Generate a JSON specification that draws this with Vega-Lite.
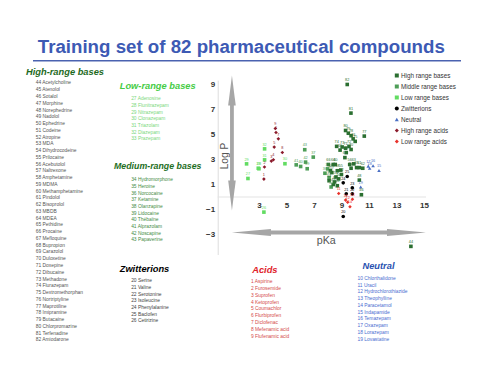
{
  "$schema": "https://vega.github.io/schema/vega-lite/v6.json",
  "background": "white",
  "padding": {"left": 26, "top": 38, "right": 8, "bottom": 8},
  "config": {"view": {"stroke": null}, "font": "Liberation Sans"},
  "datasets": {
    "compounds": [
      {"n":1,"name":"Aspirine","group":"Acids","c":"High range acids","pKa":3.36,"logP":1.43},
      {"n":2,"name":"Furosemide","group":"Acids","c":"High range acids","pKa":3.4,"logP":2.4},
      {"n":3,"name":"Suprofen","group":"Acids","c":"High range acids","pKa":3.9,"logP":2.87},
      {"n":4,"name":"Ketoprofen","group":"Acids","c":"High range acids","pKa":4.05,"logP":2.98},
      {"n":5,"name":"Coumachlor","group":"Acids","c":"High range acids","pKa":4.11,"logP":3.99},
      {"n":6,"name":"Flurbiprofen","group":"Acids","c":"High range acids","pKa":4.24,"logP":5.16},
      {"n":7,"name":"Diclofenac","group":"Acids","c":"High range acids","pKa":4.41,"logP":4.65},
      {"n":8,"name":"Mefenamic acid","group":"Acids","c":"High range acids","pKa":4.7,"logP":3.56},
      {"n":9,"name":"Flufenamic acid","group":"Acids","c":"High range acids","pKa":4.19,"logP":5.48},
      {"n":10,"name":"Chlorthalidone","group":"Neutral","c":"Low range acids","pKa":9.3,"logP":-0.25},
      {"n":11,"name":"Uracil","group":"Neutral","c":"Low range acids","pKa":8.8,"logP":0.28},
      {"n":12,"name":"Hydrochlorothiazide","group":"Neutral","c":"Low range acids","pKa":9.45,"logP":-0.42},
      {"n":13,"name":"Theophylline","group":"Neutral","c":"Low range acids","pKa":9.8,"logP":-0.18},
      {"n":14,"name":"Paracetamol","group":"Neutral","c":"Low range acids","pKa":9.62,"logP":-0.78},
      {"n":15,"name":"Indapamide","group":"Neutral","c":"Neutral","pKa":11.73,"logP":2.12},
      {"n":16,"name":"Temazepam","group":"Neutral","c":"Neutral","pKa":11.3,"logP":2.5},
      {"n":17,"name":"Oxazepam","group":"Neutral","c":"Neutral","pKa":10.95,"logP":2.47},
      {"n":18,"name":"Lorazepam","group":"Neutral","c":"Neutral","pKa":11.05,"logP":2.3},
      {"n":19,"name":"Lovastatine","group":"Neutral","c":"Neutral","pKa":10.4,"logP":0.8},
      {"n":20,"name":"Serine","group":"Zwitterions","c":"Zwitterions","pKa":9.13,"logP":-1.56},
      {"n":21,"name":"Valine","group":"Zwitterions","c":"Zwitterions","pKa":9.35,"logP":0.25},
      {"n":22,"name":"Serotonine","group":"Zwitterions","c":"Zwitterions","pKa":9.79,"logP":0.25},
      {"n":23,"name":"Isoleucine","group":"Zwitterions","c":"Zwitterions","pKa":9.79,"logP":0.73},
      {"n":24,"name":"Phenylalanine","group":"Zwitterions","c":"Zwitterions","pKa":9.13,"logP":1.13},
      {"n":25,"name":"Baclofen","group":"Zwitterions","c":"Zwitterions","pKa":9.42,"logP":1.64},
      {"n":26,"name":"Cetirizine","group":"Zwitterions","c":"Low range bases","pKa":3.36,"logP":-1.21},
      {"n":27,"name":"Adenosine","group":"Low-range bases","c":"Low range bases","pKa":2.2,"logP":1.48},
      {"n":28,"name":"Flunitrazepam","group":"Low-range bases","c":"Low range bases","pKa":3.0,"logP":2.26},
      {"n":29,"name":"Nitrazepam","group":"Low-range bases","c":"Low range bases","pKa":2.1,"logP":2.65},
      {"n":30,"name":"Clonazepam","group":"Low-range bases","c":"Low range bases","pKa":4.89,"logP":2.66},
      {"n":31,"name":"Triazolam","group":"Low-range bases","c":"Low range bases","pKa":3.41,"logP":2.97},
      {"n":32,"name":"Diazepam","group":"Low-range bases","c":"Low range bases","pKa":3.41,"logP":3.85},
      {"n":33,"name":"Prazepam","group":"Low-range bases","c":"Low range bases","pKa":2.95,"logP":2.3},
      {"n":34,"name":"Hydromorphone","group":"Medium-range bases","c":"Middle range bases","pKa":8.25,"logP":0.8},
      {"n":35,"name":"Heroine","group":"Medium-range bases","c":"Middle range bases","pKa":8.1,"logP":1.55},
      {"n":36,"name":"Norcocaine","group":"Medium-range bases","c":"Middle range bases","pKa":7.8,"logP":1.9},
      {"n":37,"name":"Ketamine","group":"Medium-range bases","c":"Middle range bases","pKa":6.95,"logP":3.19},
      {"n":38,"name":"Olanzapine","group":"Medium-range bases","c":"Middle range bases","pKa":8.0,"logP":2.25},
      {"n":39,"name":"Lidocaine","group":"Medium-range bases","c":"Middle range bases","pKa":6.51,"logP":2.26},
      {"n":40,"name":"Thébaïne","group":"Medium-range bases","c":"Middle range bases","pKa":6.03,"logP":2.44},
      {"n":41,"name":"Alprazolam","group":"Medium-range bases","c":"Middle range bases","pKa":5.71,"logP":2.57},
      {"n":42,"name":"Noscapine","group":"Medium-range bases","c":"Middle range bases","pKa":6.39,"logP":2.79},
      {"n":43,"name":"Papaverine","group":"Medium-range bases","c":"Middle range bases","pKa":6.33,"logP":3.78},
      {"n":44,"name":"Acetylcholine","group":"High-range bases","c":"High range bases","pKa":14.05,"logP":-3.95},
      {"n":45,"name":"Atenolol","group":"High-range bases","c":"High range bases","pKa":8.7,"logP":0.9},
      {"n":46,"name":"Sotalol","group":"High-range bases","c":"High range bases","pKa":10.45,"logP":0.18},
      {"n":47,"name":"Morphine","group":"High-range bases","c":"High range bases","pKa":8.5,"logP":1.2},
      {"n":48,"name":"Norephedrine","group":"High-range bases","c":"High range bases","pKa":10.3,"logP":1.35},
      {"n":49,"name":"Nadolol","group":"High-range bases","c":"High range bases","pKa":8.4,"logP":1.0},
      {"n":50,"name":"Ephedrine","group":"High-range bases","c":"High range bases","pKa":8.8,"logP":1.45},
      {"n":51,"name":"Codeine","group":"High-range bases","c":"High range bases","pKa":8.6,"logP":1.6},
      {"n":52,"name":"Atropine","group":"High-range bases","c":"High range bases","pKa":9.0,"logP":1.8},
      {"n":53,"name":"MDA","group":"High-range bases","c":"High range bases","pKa":8.1,"logP":1.3},
      {"n":54,"name":"Dihydrocodeine","group":"High-range bases","c":"High range bases","pKa":9.7,"logP":2.3},
      {"n":55,"name":"Prilocaine","group":"High-range bases","c":"High range bases","pKa":8.95,"logP":2.15},
      {"n":56,"name":"Acebutolol","group":"High-range bases","c":"High range bases","pKa":9.6,"logP":2.6},
      {"n":57,"name":"Naltrexone","group":"High-range bases","c":"High range bases","pKa":8.3,"logP":1.95},
      {"n":58,"name":"Amphetamine","group":"High-range bases","c":"High range bases","pKa":8.7,"logP":2.1},
      {"n":59,"name":"MDMA","group":"High-range bases","c":"High range bases","pKa":8.2,"logP":2.1},
      {"n":60,"name":"Methamphetamine","group":"High-range bases","c":"High range bases","pKa":8.55,"logP":2.6},
      {"n":61,"name":"Pindolol","group":"High-range bases","c":"High range bases","pKa":10.3,"logP":2.35},
      {"n":62,"name":"Bisoprolol","group":"High-range bases","c":"High range bases","pKa":10.55,"logP":2.3},
      {"n":63,"name":"MBDB","group":"High-range bases","c":"High range bases","pKa":9.9,"logP":2.65},
      {"n":64,"name":"MDEA","group":"High-range bases","c":"High range bases","pKa":8.4,"logP":2.6},
      {"n":65,"name":"Pethidine","group":"High-range bases","c":"High range bases","pKa":10.1,"logP":2.35},
      {"n":66,"name":"Procaine","group":"High-range bases","c":"High range bases","pKa":8.05,"logP":2.6},
      {"n":67,"name":"Mefloquine","group":"High-range bases","c":"High range bases","pKa":9.25,"logP":3.15},
      {"n":68,"name":"Bupropion","group":"High-range bases","c":"High range bases","pKa":9.35,"logP":3.55},
      {"n":69,"name":"Carazolol","group":"High-range bases","c":"High range bases","pKa":8.9,"logP":3.75},
      {"n":70,"name":"Duloxetine","group":"High-range bases","c":"High range bases","pKa":9.7,"logP":3.8},
      {"n":71,"name":"Doxepine","group":"High-range bases","c":"High range bases","pKa":9.3,"logP":3.9},
      {"n":72,"name":"Dibucaine","group":"High-range bases","c":"High range bases","pKa":9.55,"logP":4.05},
      {"n":73,"name":"Methadone","group":"High-range bases","c":"High range bases","pKa":9.05,"logP":4.0},
      {"n":74,"name":"Flurazepam","group":"High-range bases","c":"High range bases","pKa":8.65,"logP":4.05},
      {"n":75,"name":"Dextromethorphan","group":"High-range bases","c":"High range bases","pKa":10.0,"logP":4.45},
      {"n":76,"name":"Nortriptyline","group":"High-range bases","c":"High range bases","pKa":9.85,"logP":4.65},
      {"n":77,"name":"Maprotiline","group":"High-range bases","c":"High range bases","pKa":10.66,"logP":4.87},
      {"n":78,"name":"Imipramine","group":"High-range bases","c":"High range bases","pKa":9.7,"logP":4.9},
      {"n":79,"name":"Butacaine","group":"High-range bases","c":"High range bases","pKa":9.5,"logP":5.1},
      {"n":80,"name":"Chlorpromazine","group":"High-range bases","c":"High range bases","pKa":9.3,"logP":5.32},
      {"n":81,"name":"Terfenadine","group":"High-range bases","c":"High range bases","pKa":9.69,"logP":6.71},
      {"n":82,"name":"Amiodarone","group":"High-range bases","c":"High range bases","pKa":9.42,"logP":9.0}
    ]
  },
  "resolve": {"scale": {"color": "independent", "shape": "independent"}},
  "bounds": "full",
  "spacing": 5.1,
  "vconcat": [
    {
      "width": 428,
      "height": 1.6,
      "view": {"fill": "#4a62b0", "stroke": null},
      "data": {"values": [{"t": "Training set of 82 pharmaceutical compounds"}]},
      "mark": {"type": "text", "font": "Liberation Sans", "fontSize": 18.7, "fontWeight": "bold", "color": "#3d5ab4", "baseline": "alphabetic", "align": "center", "dx": -5.7, "dy": -7.7},
      "encoding": {"text": {"field": "t"}}
    },
    {
      "resolve": {"scale": {"color": "independent", "shape": "independent"}},
      "bounds": "full",
      "spacing": 9,
      "hconcat": [
        {
          "width": 5.5,
          "height": {"step": 6.76},
          "title": {"text": "High-range bases", "anchor": "start", "frame": "group", "dx": -7, "font": "Liberation Sans", "fontSize": 9.3, "fontWeight": "bold", "fontStyle": "italic", "color": "#1d6a1d", "offset": 3.3},
          "data": {"name": "compounds"},
          "transform": [{"filter": "datum.group === 'High-range bases'"}, {"calculate": "datum.n + ' ' + datum.name", "as": "label"}],
          "mark": {"type": "text", "align": "left", "baseline": "middle", "fontSize": 4.9, "color": "#555555"},
          "encoding": {"y": {"field": "n", "type": "ordinal", "axis": null}, "text": {"field": "label"}}
        },
        {
          "resolve": {"scale": {"color": "independent", "shape": "independent"}},
          "bounds": "full",
          "spacing": 2.7,
          "hconcat": [
            {
              "bounds": "full",
              "spacing": 0.7,
              "vconcat": [
                {"width": 1, "height": 1, "data": {"values": []}, "mark": "point", "encoding": {}},
                {
                  "bounds": "flush",
                  "spacing": 34,
                  "vconcat": [
                    {
                      "width": 34.25,
                      "height": {"step": 6.7},
                      "title": {"text": "Low-range bases", "anchor": "start", "frame": "group", "dx": 5.7, "font": "Liberation Sans", "fontSize": 9.3, "fontWeight": "bold", "fontStyle": "italic", "color": "#45cc45", "offset": 4},
                      "data": {"name": "compounds"},
                      "transform": [{"filter": "datum.group === 'Low-range bases'"}, {"calculate": "datum.n + ' ' + datum.name", "as": "label"}],
                      "mark": {"type": "text", "align": "left", "baseline": "middle", "fontSize": 4.9, "color": "#7dd87d"},
                      "encoding": {"y": {"field": "n", "type": "ordinal", "axis": null}, "text": {"field": "label"}}
                    },
                    {
                      "width": 34.25,
                      "height": {"step": 6.7},
                      "title": {"text": "Medium-range bases", "anchor": "start", "frame": "group", "font": "Liberation Sans", "fontSize": 8.8, "fontWeight": "bold", "fontStyle": "italic", "color": "#1e6e1e", "offset": 5.6},
                      "data": {"name": "compounds"},
                      "transform": [{"filter": "datum.group === 'Medium-range bases'"}, {"calculate": "datum.n + ' ' + datum.name", "as": "label"}],
                      "mark": {"type": "text", "align": "left", "baseline": "middle", "fontSize": 4.9, "color": "#468c46"},
                      "encoding": {"y": {"field": "n", "type": "ordinal", "axis": null}, "text": {"field": "label"}}
                    },
                    {
                      "width": 34.25,
                      "height": {"step": 6.7},
                      "title": {"text": "Zwitterions", "anchor": "start", "frame": "group", "dx": 5.7, "font": "Liberation Sans", "fontSize": 9.3, "fontWeight": "bold", "fontStyle": "italic", "color": "#000000", "offset": 3.2},
                      "data": {"name": "compounds"},
                      "transform": [{"filter": "datum.group === 'Zwitterions'"}, {"calculate": "datum.n + ' ' + datum.name", "as": "label"}],
                      "mark": {"type": "text", "align": "left", "baseline": "middle", "fontSize": 4.9, "color": "#444444"},
                      "encoding": {"y": {"field": "n", "type": "ordinal", "axis": null}, "text": {"field": "label"}}
                    }
                  ]
                }
              ]
            },
            {
              "resolve": {"scale": {"color": "independent", "shape": "independent"}},
              "bounds": "full",
              "spacing": 6.3,
              "vconcat": [
                {
                  "width": 249.3,
                  "height": 174.4,
                  "encoding": {
                    "x": {"field": "pKa", "type": "quantitative", "scale": {"domain": [0, 18.13], "nice": false, "zero": false},
                      "axis": {"values": [3, 5, 7, 9, 11, 13, 15], "title": "pKa", "domain": false, "ticks": false, "tickSize": 0, "grid": false, "labelFontSize": 8, "labelFontWeight": "bold", "labelColor": "#333333", "labelPadding": 4, "labelFlush": false, "offset": -57.5, "titleX": 108, "titleY": 46.8, "titleFontSize": 10.7, "titleFontWeight": "normal", "titleColor": "#555555", "titleBaseline": "alphabetic", "titleAlign": "center"}},
                    "y": {"field": "logP", "type": "quantitative", "scale": {"domain": [-4.6, 9.35], "nice": false, "zero": false},
                      "axis": {"values": [9, 7, 5, 3, 1, -1, -3], "title": "Log P", "domainColor": "#dddddd", "ticks": false, "tickSize": 0, "grid": false, "labelFontSize": 8, "labelFontWeight": "bold", "labelColor": "#333333", "labelPadding": 3, "labelFlush": false, "titleX": 6.3, "titleY": 75.4, "titleAngle": -90, "titleBaseline": "middle", "titleAlign": "center", "titleFontSize": 10.2, "titleFontWeight": "normal", "titleColor": "#555555"}}
                  },
                  "layer": [
                    {
                      "data": {"values": [{"pKa": 0, "logP": 0, "pKa2": 15.15}]},
                      "mark": {"type": "rule", "color": "#e3e3e3", "strokeWidth": 1.2},
                      "encoding": {"x2": {"field": "pKa2"}}
                    },
                    {
                      "data": {"values": [{"pKa": 1.036, "logP": 8.0, "pKa2": 1.036, "logP2": 0.8}, {"pKa": 3.0, "logP": -2.84, "pKa2": 13.2, "logP2": -2.84}]},
                      "mark": {"type": "rule", "color": "#a6a6a6", "strokeWidth": 3.8},
                      "encoding": {"x2": {"field": "pKa2"}, "y2": {"field": "logP2"}}
                    },
                    {
                      "data": {"values": [{"pKa": 1.036, "logP": 9.72}]},
                      "mark": {"type": "point", "shape": "M0,0L0.097,0.769L-0.097,0.769Z", "size": 6084, "filled": true, "opacity": 1, "color": "#a6a6a6", "strokeWidth": 0}
                    },
                    {
                      "data": {"values": [{"pKa": 1.036, "logP": -1.08}]},
                      "mark": {"type": "point", "shape": "M0,0L0.097,-0.769L-0.097,-0.769Z", "size": 6084, "filled": true, "opacity": 1, "color": "#a6a6a6", "strokeWidth": 0}
                    },
                    {
                      "data": {"values": [{"pKa": 1.036, "logP": -2.84}]},
                      "mark": {"type": "point", "shape": "M0,0L1,0.092L1,-0.092Z", "size": 6084, "filled": true, "opacity": 1, "color": "#a6a6a6", "strokeWidth": 0}
                    },
                    {
                      "data": {"values": [{"pKa": 15.15, "logP": -2.84}]},
                      "mark": {"type": "point", "shape": "M0,0L-1,0.092L-1,-0.092Z", "size": 6084, "filled": true, "opacity": 1, "color": "#a6a6a6", "strokeWidth": 0}
                    },
                    {
                      "data": {"name": "compounds"},
                      "mark": {"type": "point", "filled": true, "size": 13, "opacity": 1, "strokeWidth": 0},
                      "encoding": {
                        "color": {"field": "c", "type": "nominal",
                          "scale": {"domain": ["High range bases", "Middle range bases", "Low range bases", "Zwitterions", "Neutral", "High range acids", "Low range acids"],
                                    "range": ["#2b6f31", "#4e9e58", "#62dc62", "#000000", "#4a6fc4", "#8b1a2b", "#e8322b"]},
                          "legend": {"orient": "none", "legendX": 171, "legendY": -12.7, "title": null, "labelFont": "Liberation Sans", "labelFontSize": 6.3, "labelColor": "#333333", "symbolSize": 16, "rowPadding": 4.0, "labelOffset": 1, "padding": 4.95, "symbolStrokeWidth": 0}},
                        "shape": {"field": "c", "type": "nominal",
                          "scale": {"domain": ["High range bases", "Middle range bases", "Low range bases", "Zwitterions", "Neutral", "High range acids", "Low range acids"],
                                    "range": ["square", "square", "square", "circle", "triangle-up", "diamond", "diamond"]}}
                      }
                    },
                    {
                      "data": {"name": "compounds"},
                      "mark": {"type": "text", "fontSize": 3.8, "dy": -4.3},
                      "encoding": {"text": {"field": "n"}, "color": {"field": "c", "type": "nominal", "legend": null}}
                    }
                  ]
                },
                {
                  "bounds": "flush",
                  "spacing": 20,
                  "hconcat": [
                    {
                      "width": 66.5,
                      "height": 68.07,
                      "title": {"text": "Acids", "anchor": "start", "frame": "group", "dx": 34.5, "font": "Liberation Sans", "fontSize": 9.3, "fontWeight": "bold", "fontStyle": "italic", "color": "#e0222a", "offset": -0.2},
                      "data": {"name": "compounds"},
                      "transform": [{"filter": "datum.group === 'Acids'"}, {"calculate": "datum.n + ' ' + datum.name", "as": "label"}],
                      "mark": {"type": "text", "align": "left", "baseline": "middle", "fontSize": 4.9, "color": "#d44a4a"},
                      "encoding": {"y": {"field": "n", "type": "ordinal", "axis": null, "scale": {"padding": 1.11}}, "text": {"field": "label"}}
                    },
                    {
                      "width": 105.5,
                      "height": {"step": 6.78},
                      "title": {"text": "Neutral", "anchor": "start", "frame": "group", "dx": 57.75, "font": "Liberation Sans", "fontSize": 9.3, "fontWeight": "bold", "fontStyle": "italic", "color": "#2a52b0", "offset": 4},
                      "data": {"name": "compounds"},
                      "transform": [{"filter": "datum.group === 'Neutral'"}, {"calculate": "datum.n + ' ' + datum.name", "as": "label"}],
                      "mark": {"type": "text", "align": "left", "baseline": "middle", "fontSize": 4.9, "color": "#4a6cd0"},
                      "encoding": {"y": {"field": "n", "type": "ordinal", "axis": null}, "text": {"field": "label"}}
                    }
                  ]
                }
              ]
            }
          ]
        }
      ]
    }
  ]
}
